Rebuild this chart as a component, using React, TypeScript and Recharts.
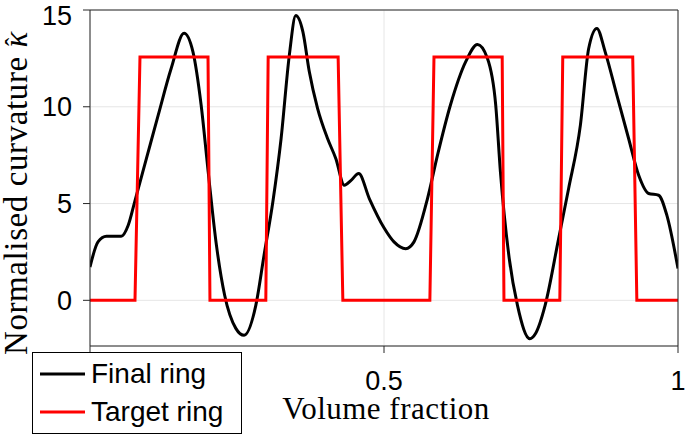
import React from 'react';
import { LineChart, Line, XAxis, YAxis, CartesianGrid } from 'recharts';

// Final ring curvature
const finalX = [
  0, 0.0136, 0.028, 0.053, 0.065, 0.076, 0.096, 0.116, 0.138, 0.16, 0.175, 0.189, 0.201, 0.215, 0.229,
  0.248, 0.262, 0.282, 0.296, 0.311, 0.325, 0.339, 0.35, 0.362, 0.373, 0.387, 0.404, 0.418, 0.4325,
  0.444, 0.457, 0.475, 0.5, 0.517, 0.537, 0.551, 0.574, 0.591, 0.613, 0.639, 0.659, 0.676, 0.69,
  0.698, 0.713, 0.727, 0.748, 0.758, 0.774, 0.797, 0.814, 0.834, 0.848, 0.862, 0.876, 0.896, 0.916,
  0.933, 0.95, 0.967, 0.981, 1,
];
const finalY = [
  1.72, 3.02, 3.31, 3.31, 3.88, 5.09, 7.33, 9.57, 11.98, 13.8, 12.85, 10.09, 6.64, 2.85, 0.26,
  -1.45, -1.81, -0.26, 2.33, 5.09, 8.36, 12.67, 14.71, 13.88, 11.81, 9.92, 8.36, 7.33, 5.95,
  6.2, 6.55, 5.26, 3.75, 3.02, 2.67, 3.02, 5.26, 7.5, 10.09, 12.33, 13.22, 12.5, 10.09,
  6.64, 2.16, -0.26, -1.98, -1.7, -0.26, 3.19, 5.78, 9.05, 13.0, 14.05, 12.85, 10.6, 8.36,
  6.47, 5.52, 5.43, 4.4, 1.64,
];

// Target ring: piecewise constant at 4*pi
const targetX = [
  0, 0.0765, 0.085, 0.2007, 0.204, 0.299, 0.303, 0.422, 0.43, 0.578, 0.585, 0.701, 0.704,
  0.799, 0.804, 0.923, 0.93, 1,
];
const targetY = [
  0, 0, 12.57, 12.57, 0, 0, 12.57, 12.57, 0, 0, 12.57, 12.57, 0, 0, 12.57, 12.57, 0, 0,
];

const xTicks = [0, 0.5, 1];
const yTicks = [0, 5, 10, 15];
const seriesNames = ['Final ring', 'Target ring'];
const seriesColors = ['#000000', '#ff0000'];

const finalData = finalX.map((x, i) => ({ x, y: finalY[i] }));
const targetData = targetX.map((x, i) => ({ x, y: targetY[i] }));

const axisColor = '#262626';
const gridColor = '#e6e6e6';
const sans = '"Liberation Sans", Arial, sans-serif';
const serif = '"Liberation Serif", "Times New Roman", serif';

const XTitle = () => (
  <text x={386} y={419} textAnchor="middle" fontFamily={serif} fontSize={31} letterSpacing={0.5} fill="#000">
    Volume fraction
  </text>
);

const YTitle = () => (
  <text
    x={0}
    y={0}
    transform="translate(27, 193) rotate(-90)"
    textAnchor="middle"
    fontFamily={serif}
    fontSize={33}
    letterSpacing={0.6}
    fill="#000"
  >
    Normalised curvature <tspan fontStyle="italic">{'\u03BA'}</tspan>
    <tspan dx={-15} dy={-4} fontSize={25}>{'\u02C6'}</tspan>
  </text>
);

const LegendBox = () => (
  <div
    style={{
      position: 'absolute',
      left: 32,
      top: 352,
      width: 210,
      height: 82,
      boxSizing: 'border-box',
      border: '1.5px solid #000',
      background: '#fff',
      paddingTop: 2,
      fontFamily: sans,
      fontSize: 28,
      color: '#000',
    }}
  >
    {seriesNames.map((name, i) => (
      <div key={name} style={{ display: 'flex', alignItems: 'center', height: 38 }}>
        <svg width={58} height={10} style={{ flex: 'none' }}>
          <line x1={7} x2={52} y1={5} y2={5} stroke={seriesColors[i]} strokeWidth={3} />
        </svg>
        <span style={{ lineHeight: '38px' }}>{name}</span>
      </div>
    ))}
  </div>
);

export default function App() {
  return (
    <div style={{ position: 'absolute', left: 0, top: 0, width: 685, height: 436, background: '#fff' }}>
      <LineChart width={685} height={436} margin={{ top: 0, right: 0, bottom: 30, left: 0 }}>
        <CartesianGrid stroke={gridColor} strokeWidth={1} />
        <XAxis
          dataKey="x"
          type="number"
          domain={[0, 1]}
          ticks={xTicks}
          allowDataOverflow
          height={60}
          stroke={axisColor}
          tickSize={7}
          tickMargin={18}
          tickFormatter={(v: number) => (v === 0 ? '' : String(v))} // 0 sits under the legend
          tick={{ fill: '#000', fontSize: 27, fontFamily: sans }}
          label={<XTitle />}
        />
        <XAxis
          xAxisId="top"
          orientation="top"
          type="number"
          domain={[0, 1]}
          ticks={xTicks}
          height={10}
          stroke={axisColor}
          tickSize={7}
          tickFormatter={() => ''}
        />
        <YAxis
          type="number"
          domain={[-2.36, 15]}
          ticks={yTicks}
          allowDataOverflow
          width={90}
          stroke={axisColor}
          tickSize={7}
          tickMargin={11}
          tick={{ fill: '#000', fontSize: 27, fontFamily: sans }}
          label={<YTitle />}
        />
        <YAxis
          yAxisId="right"
          orientation="right"
          type="number"
          domain={[-2.36, 15]}
          ticks={yTicks}
          width={7}
          stroke={axisColor}
          tickSize={7}
          tickFormatter={() => ''}
        />
        <Line
          data={finalData}
          dataKey="y"
          name={seriesNames[0]}
          type="monotone"
          stroke={seriesColors[0]}
          strokeWidth={3}
          dot={false}
          isAnimationActive={false}
        />
        <Line
          data={targetData}
          dataKey="y"
          name={seriesNames[1]}
          type="linear"
          stroke={seriesColors[1]}
          strokeWidth={3}
          dot={false}
          isAnimationActive={false}
        />
      </LineChart>
      <LegendBox />
    </div>
  );
}
